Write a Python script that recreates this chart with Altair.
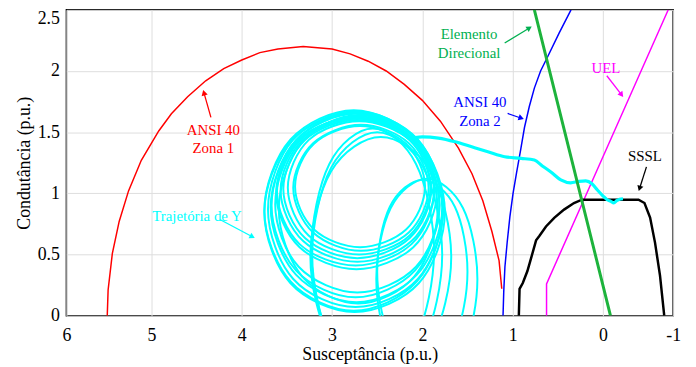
import math
import altair as alt
import numpy as np
import pandas as pd

# ---------------- axes ----------------
X_TICKS = [6, 5, 4, 3, 2, 1, 0, -1]
Y_TICKS = [0, 0.5, 1, 1.5, 2, 2.5]
X_TITLE = "Susceptância (p.u.)"
Y_TITLE = "Condutância (p.u.)"

# ---------------- curves ----------------
ZONA1_X = [5.52, 5.51, 5.46, 5.38, 5.27, 5.12, 4.92, 4.78, 4.60, 4.40, 4.20, 4.00, 3.80, 3.60,
           3.32, 3.00, 2.80, 2.60, 2.40, 2.20, 2.00, 1.80, 1.60, 1.45, 1.33, 1.23, 1.15, 1.12]
ZONA1_Y = [0.00, 0.21, 0.51, 0.77, 1.02, 1.27, 1.51, 1.65, 1.79, 1.92, 2.02, 2.09, 2.15, 2.18,
           2.20, 2.18, 2.14, 2.08, 2.00, 1.89, 1.76, 1.59, 1.37, 1.16, 0.94, 0.69, 0.45, 0.22]

ZONA2_X = [1.106, 1.098, 1.085, 1.060, 1.030, 0.995, 0.956, 0.910, 0.868, 0.815, 0.759, 0.690, 0.616, 0.485, 0.353]
ZONA2_Y = [0.00, 0.20, 0.40, 0.60, 0.81, 1.00, 1.17, 1.36, 1.54, 1.71, 1.86, 2.00, 2.11, 2.31, 2.50]

DIR_X = [0.759, 0.0, -0.108]
DIR_Y = [2.50, 0.25, 0.00]

UEL_X = [0.624, 0.624, 0.0, -0.93]
UEL_Y = [0.00, 0.26, 1.297, 2.50]

SSSL_X = [0.931, 0.923, 0.887, 0.836, 0.792, 0.740, 0.704, 0.630, 0.539, 0.430, 0.320, 0.232,
          -0.507, -0.592, -0.672, -0.742, -0.813, -0.873]
SSSL_Y = [0.000, 0.219, 0.267, 0.365, 0.478, 0.616, 0.651, 0.729, 0.800, 0.867, 0.921, 0.948,
          0.948, 0.921, 0.802, 0.597, 0.327, 0.000]

# admittance trajectory: tail from the operating point, then the swing loops
TRAJ_X = [-0.286, -0.239, -0.197, -0.155, -0.113, -0.061, 0.0, 0.0625, 0.121, 0.189, 0.265, 0.357,
          0.466, 0.576, 0.671, 0.759, 0.905, 1.088, 1.274, 1.453, 1.636, 1.822, 2.001, 2.08]
TRAJ_Y = [0.956, 0.952, 0.940, 0.921, 0.934, 0.948, 0.980, 1.029, 1.078, 1.102, 1.098, 1.086,
          1.110, 1.175, 1.224, 1.272, 1.286, 1.299, 1.340, 1.380, 1.421, 1.451, 1.461, 1.455]

LOOPS_X = [
    [2.50, 3.01, 3.22, 3.01, 2.50, 1.99, 1.78, 1.99],
    [2.46, 3.01, 3.24, 3.01, 2.46, 1.91, 1.68, 1.91],
    [2.55, 3.03, 3.23, 3.03, 2.55, 2.07, 1.87, 2.07],
    [1.95, 2.35, 2.51, 2.35, 1.95, 1.55, 1.39, 1.55],
    [2.00, 2.36, 2.50, 2.36, 2.00, 1.64, 1.50, 1.64],
    [2.76, 3.46, 3.75, 3.46, 2.76, 2.06, 1.77, 2.06],
    [2.75, 3.46, 3.75, 3.46, 2.75, 2.04, 1.75, 2.04],
    [2.74, 3.43, 3.71, 3.43, 2.74, 2.05, 1.77, 2.05],
    [2.73, 3.40, 3.68, 3.40, 2.73, 2.06, 1.78, 2.06],
    [2.71, 3.33, 3.59, 3.33, 2.71, 2.09, 1.83, 2.09],
    [2.74, 3.40, 3.67, 3.40, 2.74, 2.08, 1.81, 2.08],
    [2.72, 3.37, 3.63, 3.37, 2.72, 2.07, 1.81, 2.07],
    [2.73, 3.36, 3.62, 3.36, 2.73, 2.10, 1.84, 2.10],
    [2.74, 3.36, 3.61, 3.36, 2.74, 2.12, 1.87, 2.12],
    [2.72, 3.32, 3.57, 3.32, 2.72, 2.12, 1.87, 2.12],
    [2.72, 3.30, 3.54, 3.30, 2.72, 2.14, 1.90, 2.14],
    [2.70, 3.26, 3.49, 3.26, 2.70, 2.14, 1.91, 2.14],
    [2.68, 3.21, 3.43, 3.21, 2.68, 2.15, 1.93, 2.15],
    [2.69, 3.20, 3.41, 3.20, 2.69, 2.18, 1.97, 2.18],
]
LOOPS_Y = [
    [1.50, 1.21, 0.50, -0.21, -0.50, -0.21, 0.50, 1.21],
    [1.46, 1.18, 0.48, -0.22, -0.50, -0.22, 0.48, 1.18],
    [1.53, 1.24, 0.53, -0.18, -0.47, -0.18, 0.53, 1.24],
    [1.12, 0.88, 0.30, -0.28, -0.52, -0.28, 0.30, 0.88],
    [1.11, 0.89, 0.36, -0.17, -0.39, -0.17, 0.36, 0.89],
    [1.68, 1.44, 0.86, 0.28, 0.04, 0.28, 0.86, 1.44],
    [1.66, 1.425, 0.845, 0.265, 0.03, 0.265, 0.845, 1.425],
    [1.67, 1.44, 0.87, 0.30, 0.07, 0.30, 0.87, 1.44],
    [1.66, 1.435, 0.885, 0.335, 0.11, 0.335, 0.885, 1.435],
    [1.64, 1.42, 0.87, 0.32, 0.10, 0.32, 0.87, 1.42],
    [1.65, 1.43, 0.90, 0.37, 0.15, 0.37, 0.90, 1.43],
    [1.63, 1.42, 0.91, 0.40, 0.19, 0.40, 0.91, 1.42],
    [1.62, 1.44, 1.00, 0.56, 0.38, 0.56, 1.00, 1.44],
    [1.62, 1.445, 1.015, 0.585, 0.41, 0.585, 1.015, 1.445],
    [1.61, 1.44, 1.025, 0.61, 0.44, 0.61, 1.025, 1.44],
    [1.60, 1.435, 1.035, 0.635, 0.47, 0.635, 1.035, 1.435],
    [1.59, 1.435, 1.045, 0.655, 0.50, 0.655, 1.045, 1.435],
    [1.56, 1.41, 1.045, 0.68, 0.53, 0.68, 1.045, 1.41],
    [1.55, 1.405, 1.055, 0.705, 0.56, 0.705, 1.055, 1.405],
]

# ---------------- annotations (y = first text line) ----------------
LABEL_TEXT = ["ANSI 40\nZona 1", "Trajetória de Y", "Elemento\nDirecional", "ANSI 40\nZona 2", "UEL", "SSSL"]
LABEL_X = [4.315, 4.496, 1.482, 1.362, -0.042, -0.599]
LABEL_Y = [1.521, 0.818, 2.298, 1.748, 2.022, 1.305]
LABEL_COLOR = ["#ff0000", "#00ffff", "#00b050", "#0000ff", "#ff00ff", "#000000"]

ARROW_TAIL_X = [4.342, 4.243, 1.088, 1.055, -0.056, -0.620]
ARROW_TAIL_Y = [1.621, 0.786, 2.229, 1.653, 1.961, 1.216]
ARROW_HEAD_X = [4.430, 3.849, 0.781, 0.868, -0.296, -0.507]
ARROW_HEAD_Y = [1.850, 0.632, 2.366, 1.605, 1.783, 1.013]

FONT = "Liberation Serif"

# ---------------- scales ----------------
X_DOM = [6, 5, 0, -1]
X_RANGE = [0, 86, 542, 613]
W, H = 613, 309

xscale = alt.Scale(domain=X_DOM, range=X_RANGE, nice=False, zero=False)
yscale = alt.Scale(domain=[0, 2.5], nice=False, zero=False)

AX = dict(grid=True, ticks=False, domain=False, labelFont=FONT, titleFont=FONT,
          labelFontSize=18, titleFontSize=18, titleFontWeight="normal",
          labelColor="black", titleColor="black", gridColor="#dedede", gridWidth=1)

xaxis = alt.Axis(values=X_TICKS, labelExpr="datum.value + ''", title=X_TITLE,
                 labelPadding=11, titlePadding=1, labelFlush=False, **AX)
yaxis = alt.Axis(values=Y_TICKS, labelExpr="datum.value + ''", title=Y_TITLE,
                 labelPadding=7, titlePadding=4, labelFlush=False,
                 labelBaseline={"condition": {"test": "datum.value >= 2.5", "value": "top"},
                                "value": "middle"}, **AX)


def enc(**kw):
    return dict(x=alt.X("x:Q", scale=xscale, axis=xaxis),
                y=alt.Y("y:Q", scale=yscale, axis=yaxis), **kw)


def line_df(xs, ys):
    return pd.DataFrame({"x": xs, "y": ys, "i": list(range(len(xs)))})


def line_layer(xs, ys, color, width):
    return alt.Chart(line_df(xs, ys)).mark_line(color=color, strokeWidth=width, clip=True).encode(
        **enc(order="i:Q"))


# loops
rows = []
for k, (lx, ly) in enumerate(zip(LOOPS_X, LOOPS_Y)):
    for i, (a, b) in enumerate(zip(lx, ly)):
        rows.append({"loop": k, "i": i, "x": a, "y": b})
loops_df = pd.DataFrame(rows)
loops = alt.Chart(loops_df).mark_line(color="#00ffff", strokeWidth=2, clip=True,
                                      interpolate="cardinal-closed", tension=0).encode(
    **enc(order="i:Q", detail="loop:N"))

traj = alt.Chart(line_df(TRAJ_X, TRAJ_Y)).mark_line(
    color="#00ffff", strokeWidth=3.2, clip=True, interpolate="monotone").encode(**enc(order="i:Q"))

zona1 = line_layer(ZONA1_X, ZONA1_Y, "#ff0000", 1.5)
zona2 = line_layer(ZONA2_X, ZONA2_Y, "#0000ff", 1.5)
uel = line_layer(UEL_X, UEL_Y, "#ff00ff", 1.5)
sssl = line_layer(SSSL_X, SSSL_Y, "#000000", 2.5)
direc = line_layer(DIR_X, DIR_Y, "#1db33c", 3)

# labels
lab_df = pd.DataFrame({"x": LABEL_X, "y": LABEL_Y, "t": LABEL_TEXT, "c": LABEL_COLOR})
labels = alt.Chart(lab_df).mark_text(font=FONT, fontSize=15, lineBreak="\n", lineHeight=19,
                                     align="center", baseline="middle").encode(
    **enc(text="t:N", color=alt.Color("c:N", scale=None)))


# arrows: convert data to pixels to get head direction
def to_px(x, y):
    px = float(np.interp(x, X_DOM[::-1], X_RANGE[::-1]))
    py = (2.5 - y) / 2.5 * H
    return px, py


def to_data(px, py):
    x = float(np.interp(px, X_RANGE, X_DOM))
    y = 2.5 - py / H * 2.5
    return x, y


arr_rows, head_rows = [], []
for k in range(len(ARROW_TAIL_X)):
    tx, ty = to_px(ARROW_TAIL_X[k], ARROW_TAIL_Y[k])
    hx, hy = to_px(ARROW_HEAD_X[k], ARROW_HEAD_Y[k])
    dx, dy = hx - tx, hy - ty
    L = math.hypot(dx, dy)
    ux, uy = dx / L, dy / L
    cx, cy = hx - 3.5 * ux, hy - 3.5 * uy
    ex, ey = hx - 4 * ux, hy - 4 * uy
    ang = math.degrees(math.atan2(dx, -dy)) % 360
    d_end = to_data(ex, ey)
    d_c = to_data(cx, cy)
    arr_rows.append({"a": k, "i": 0, "x": ARROW_TAIL_X[k], "y": ARROW_TAIL_Y[k], "c": LABEL_COLOR[k]})
    arr_rows.append({"a": k, "i": 1, "x": d_end[0], "y": d_end[1], "c": LABEL_COLOR[k]})
    head_rows.append({"x": d_c[0], "y": d_c[1], "ang": ang, "c": LABEL_COLOR[k]})

arrows = alt.Chart(pd.DataFrame(arr_rows)).mark_line(strokeWidth=1.3).encode(
    **enc(order="i:Q", detail="a:N", color=alt.Color("c:N", scale=None)))
heads = alt.Chart(pd.DataFrame(head_rows)).mark_point(shape="triangle-up", filled=True, size=40,
                                                      opacity=1, strokeWidth=0).encode(
    **enc(angle=alt.Angle("ang:Q", scale=None), color=alt.Color("c:N", scale=None)))

chart = alt.layer(loops, zona1, zona2, uel, sssl, traj, direc, labels, arrows, heads).properties(
    width=W, height=H,
    autosize=alt.AutoSizeParams(type="none"),
    padding={"left": 59, "top": 0, "right": 15, "bottom": 48},
).configure_view(stroke="black", strokeWidth=1.5)

chart.save("out.html", embed_options={"renderer": "svg", "actions": False})
